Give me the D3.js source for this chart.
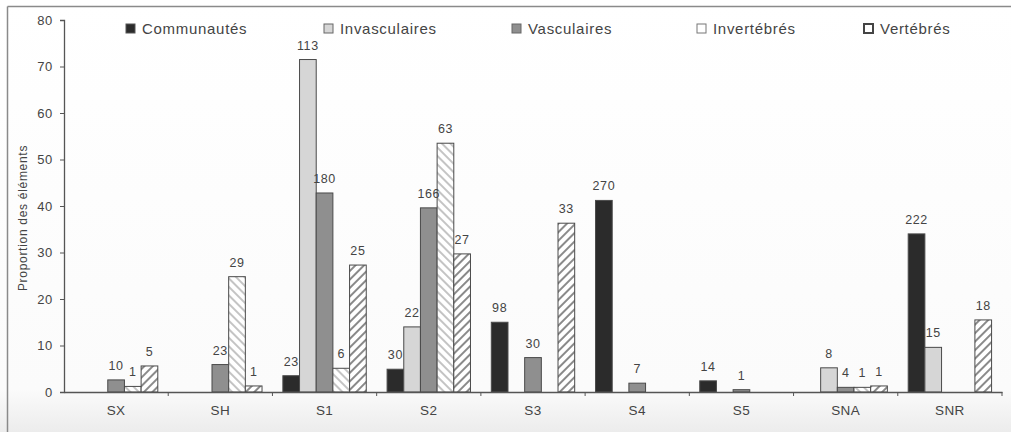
<!DOCTYPE html>
<html><head><meta charset="utf-8">
<script src="https://cdn.jsdelivr.net/npm/d3@7"></script>
<style>
html,body{margin:0;padding:0;background:#fafafa;}
svg{display:block;font-family:"Liberation Sans",Arial,sans-serif;}
</style></head>
<body>
<svg id="chart" width="1011" height="432"></svg>
<script>
// ---- data ----
const categories = ["SX","SH","S1","S2","S3","S4","S5","SNA","SNR"];
const seriesNames = ["Communautés","Invasculaires","Vasculaires","Invertébrés","Vertébrés"];
const communautes      = [null, null, 3.5, 4.9, 15.0, 41.2, 2.4, null, 34.0];
const communautesN     = [null, null, 23, 30, 98, 270, 14, null, 222];
const invasculaires    = [null, null, 71.5, 14.0, null, null, null, 5.2, 9.6];
const invasculairesN   = [null, null, 113, 22, null, null, null, 8, 15];
const vasculaires      = [2.6, 5.9, 42.8, 39.6, 7.4, 1.9, 0.5, 1.0, null];
const vasculairesN     = [10, 23, 180, 166, 30, 7, 1, 4, null];
const invertebres      = [1.2, 24.8, 5.1, 53.5, null, null, null, 1.0, null];
const invertebresN     = [1, 29, 6, 63, null, null, null, 1, null];
const vertebres        = [5.6, 1.3, 27.3, 29.7, 36.3, null, null, 1.3, 15.5];
const vertebresN       = [5, 1, 25, 27, 33, null, null, 1, 18];
const yTicks = [0,10,20,30,40,50,60,70,80];
const yTitle = "Proportion des éléments";

const seriesValues = [communautes, invasculaires, vasculaires, invertebres, vertebres];
const seriesCounts = [communautesN, invasculairesN, vasculairesN, invertebresN, vertebresN];

// ---- layout ----
const svg = d3.select("#chart");
const W = 1011, H = 432;
const plot = {left:64, right:1002, top:20, bottom:392};

// background & frame
const defs = svg.append("defs");
const bg = defs.append("linearGradient").attr("id","bgGrad").attr("x1",0).attr("y1",0).attr("x2",0).attr("y2",1);
bg.append("stop").attr("offset","0%").attr("stop-color","#ffffff");
bg.append("stop").attr("offset","90%").attr("stop-color","#fbfbfb");
bg.append("stop").attr("offset","100%").attr("stop-color","#ececec");
svg.append("rect").attr("width",W).attr("height",H).attr("fill","url(#bgGrad)");
svg.append("line").attr("x1",7.5).attr("x2",7.5).attr("y1",6.5).attr("y2",H).attr("stroke","#8a8a8a").attr("stroke-width",1.5);
svg.append("line").attr("x1",7.5).attr("x2",W).attr("y1",6.5).attr("y2",6.5).attr("stroke","#8a8a8a").attr("stroke-width",1.5);

// patterns
const pInv = defs.append("pattern").attr("id","hatchInv").attr("patternUnits","userSpaceOnUse")
  .attr("width",6).attr("height",6).attr("patternTransform","rotate(-45)");
pInv.append("rect").attr("width",6).attr("height",6).attr("fill","#fff");
pInv.append("rect").attr("width",2).attr("height",6).attr("fill","#c4c4c4");
const pVer = defs.append("pattern").attr("id","hatchVer").attr("patternUnits","userSpaceOnUse")
  .attr("width",6).attr("height",6).attr("patternTransform","rotate(45)");
pVer.append("rect").attr("width",6).attr("height",6).attr("fill","#fff");
pVer.append("rect").attr("width",2).attr("height",6).attr("fill","#8a8a8a");

const fills = ["#2b2b2b","#d6d6d6","#8f8f8f","url(#hatchInv)","url(#hatchVer)"];
const legendFills = ["#2b2b2b","#d6d6d6","#8f8f8f","#ffffff","#ffffff"];
const legendStroke = ["#555","#666","#666","#777","#444"];
const legendStrokeW = [1,1,1,1,2];

// scales
const x0 = d3.scaleBand().domain(categories).range([plot.left, plot.right]).paddingInner(0).paddingOuter(0);
const groupPad = 0.1;
const x1 = d3.scaleBand().domain(seriesNames)
  .range([x0.bandwidth()*groupPad, x0.bandwidth()*(1-groupPad)]).padding(0);
const y = d3.scaleLinear().domain([0,80]).range([plot.bottom, plot.top]);

// bars
const barData = [];
categories.forEach((c,i) => {
  seriesNames.forEach((s,j) => {
    const v = seriesValues[j][i];
    if (v != null) barData.push({cat:c, ser:s, j, v, n:seriesCounts[j][i]});
  });
});

svg.append("g").selectAll("rect").data(barData).join("rect")
  .attr("x", d => x0(d.cat) + x1(d.ser))
  .attr("y", d => y(d.v))
  .attr("width", x1.bandwidth())
  .attr("height", d => y(0) - y(d.v))
  .attr("fill", d => fills[d.j])
  .attr("stroke", "#4a4a4a")
  .attr("stroke-width", 1);

// value labels
svg.append("g").selectAll("text").data(barData).join("text")
  .attr("x", d => x0(d.cat) + x1(d.ser) + x1.bandwidth()/2)
  .attr("y", d => y(d.v) - 10)
  .attr("text-anchor","middle")
  .attr("font-size", 12.5)
  .attr("letter-spacing", 0.6)
  .attr("fill","#444")
  .text(d => d.n);

// y axis
const yAxis = svg.append("g").attr("transform",`translate(${plot.left},0)`)
  .call(d3.axisLeft(y).tickValues(yTicks).tickSize(4).tickPadding(7));
yAxis.select(".domain").attr("stroke","#555").attr("stroke-width",1.3);
yAxis.selectAll(".tick line").attr("stroke","#555");
yAxis.selectAll(".tick text").attr("font-size",13).attr("letter-spacing",0.7)
  .attr("fill","#444").attr("font-family","Liberation Sans, Arial, sans-serif");

// x axis
const xAxis = svg.append("g").attr("transform",`translate(0,${plot.bottom})`)
  .call(d3.axisBottom(x0).tickSize(0).tickPadding(13));
xAxis.select(".domain").attr("stroke","#555").attr("stroke-width",1.3);
xAxis.selectAll(".tick text").attr("font-size",13.5).attr("letter-spacing",0.4)
  .attr("fill","#444").attr("font-family","Liberation Sans, Arial, sans-serif");
// category boundary ticks
const bounds = categories.map(c => x0(c) + x0.bandwidth());
svg.append("g").selectAll("line").data(bounds).join("line")
  .attr("x1", d => d).attr("x2", d => d)
  .attr("y1", plot.bottom).attr("y2", plot.bottom + 4)
  .attr("stroke","#555");

// y title
svg.append("text")
  .attr("transform", `translate(27,${(plot.top+plot.bottom)/2 + 12}) rotate(-90)`)
  .attr("text-anchor","middle")
  .attr("font-size", 12)
  .attr("letter-spacing", 0.7)
  .attr("fill","#444")
  .text(yTitle);

// legend
const legendX = [126, 324, 512, 697, 864];
const lg = svg.append("g").selectAll("g").data(seriesNames).join("g")
  .attr("transform",(d,i) => `translate(${legendX[i]},24)`);
lg.append("rect").attr("width",9).attr("height",9)
  .attr("fill",(d,i)=>legendFills[i]).attr("stroke",(d,i)=>legendStroke[i])
  .attr("stroke-width",(d,i)=>legendStrokeW[i]);
lg.append("text").attr("x",16).attr("y",10)
  .attr("font-size",15).attr("letter-spacing",0.7).attr("fill","#444")
  .text(d => d);
</script>
</body></html>
